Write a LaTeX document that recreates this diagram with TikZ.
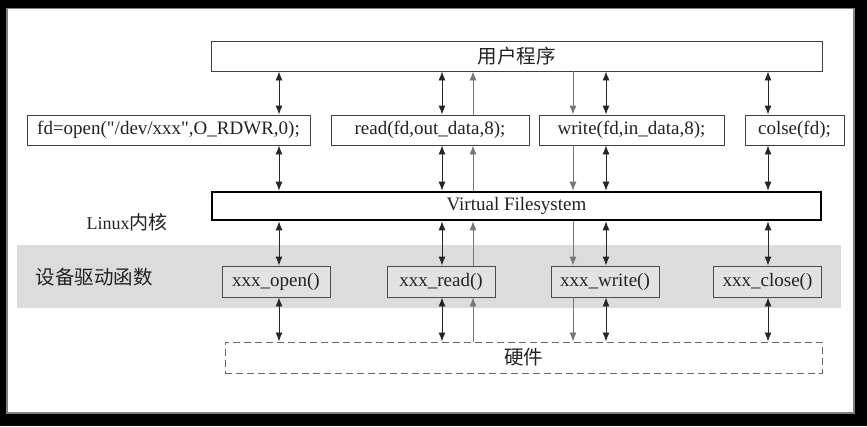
\documentclass[tikz,border=0pt]{standalone}
\usepackage{fontspec}
\setmainfont{Liberation Serif}[Ligatures=TeXOff]
\newfontfamily\cjk{Noto Sans CJK SC}
\usetikzlibrary{arrows.meta}
\definecolor{band}{HTML}{DCDCDC}
\definecolor{boxfill}{HTML}{E2E2E2}
\definecolor{garrow}{HTML}{777777}
\definecolor{txt}{HTML}{222222}
\tikzset{
  lat/.style={font=\fontsize{19}{22}\selectfont, text=txt},
  zh/.style={font=\cjk\fontsize{19.5}{22}\selectfont, text=txt},
  plainbox/.style={draw=black!75, line width=0.9pt, fill=white, inner sep=0pt, minimum height=30pt},
  drvbox/.style={draw=black!70, line width=0.9pt, fill=boxfill, inner sep=0pt, minimum height=31pt, minimum width=108pt, lat},
  bidir/.style={black!85, line width=0.9pt, {Latex[length=9pt,width=7pt]}-{Latex[length=9pt,width=7pt]}},
  gray up/.style={garrow, line width=0.9pt, -{Latex[length=9pt,width=7pt]}},
}
\begin{document}
\begin{tikzpicture}[x=1pt,y=-1pt]
\useasboundingbox (0,0) rectangle (867,426);
\fill[black] (0,0) rectangle (867,426);
\fill[white, draw=black!50, line width=1.2pt] (7,8.5) rectangle (854,413);
% gray band
\fill[band] (17,245) rectangle (841,308);
% columns
\coordinate (xo) at (279,0);
\coordinate (xr) at (442,0);
\coordinate (xrg) at (473,0);
\coordinate (xwg) at (573,0);
\coordinate (xw) at (606,0);
\coordinate (xc) at (768,0);
% boxes
\node[plainbox, minimum width=611pt, zh] (user) at (516.5,56) {用户程序};
\node[plainbox, minimum width=283pt, lat] (fdo) at (168.5,130) {fd=open("/dev/xxx",O\_RDWR,0);};
\node[plainbox, minimum width=198pt, lat] (rd) at (430,130) {read(fd,out\_data,8);};
\node[plainbox, minimum width=185pt, lat] (wr) at (631.5,130) {write(fd,in\_data,8);};
\node[plainbox, minimum width=99pt, lat] (cl) at (794.5,130) {colse(fd);};
\node[draw=black, line width=2.6pt, fill=white, minimum width=609pt, minimum height=28pt, inner sep=0pt, lat] (vfs) at (516.5,206) {Virtual Filesystem};
\node[drvbox] (dopen) at (276,281.5) {xxx\_open()};
\node[drvbox] (dread) at (441,281.5) {xxx\_read()};
\node[drvbox] (dwrite) at (605,281.5) {xxx\_write()};
\node[drvbox] (dclose) at (767.5,281.5) {xxx\_close()};
\node[draw=black!60, dashed, dash pattern=on 7pt off 4pt, line width=1pt, minimum width=597pt, minimum height=31pt, inner sep=0pt, zh] (hw) at (523.5,357.5) {硬件};
% labels
\node[lat, font=\fontsize{18}{22}\selectfont] (lk) at (127,222) {Linux{\cjk\fontsize{19}{22}\selectfont 内核}};
\node[zh] (drv) at (94,277) {设备驱动函数};
% black double arrows
\foreach \c in {xo,xr,xw,xc}{
  \draw[bidir] (user.south -| \c) -- (fdo.north -| \c);
  \draw[bidir] (fdo.south -| \c) -- (vfs.north -| \c);
  \draw[bidir] (vfs.south -| \c) -- (dopen.north -| \c);
  \draw[bidir] (dopen.south -| \c) -- (hw.north -| \c);
}
% gray read (upward)
\draw[gray up] (rd.north -| xrg) -- (user.south -| xrg);
\draw[gray up] (vfs.north -| xrg) -- (rd.south -| xrg);
\draw[gray up] (dread.north -| xrg) -- (vfs.south -| xrg);
\draw[gray up] (hw.north -| xrg) -- (dread.south -| xrg);
% gray write (downward)
\draw[gray up] (user.south -| xwg) -- (wr.north -| xwg);
\draw[gray up] (wr.south -| xwg) -- (vfs.north -| xwg);
\draw[gray up] (vfs.south -| xwg) -- (dwrite.north -| xwg);
\draw[gray up] (dwrite.south -| xwg) -- (hw.north -| xwg);
\end{tikzpicture}
\end{document}
